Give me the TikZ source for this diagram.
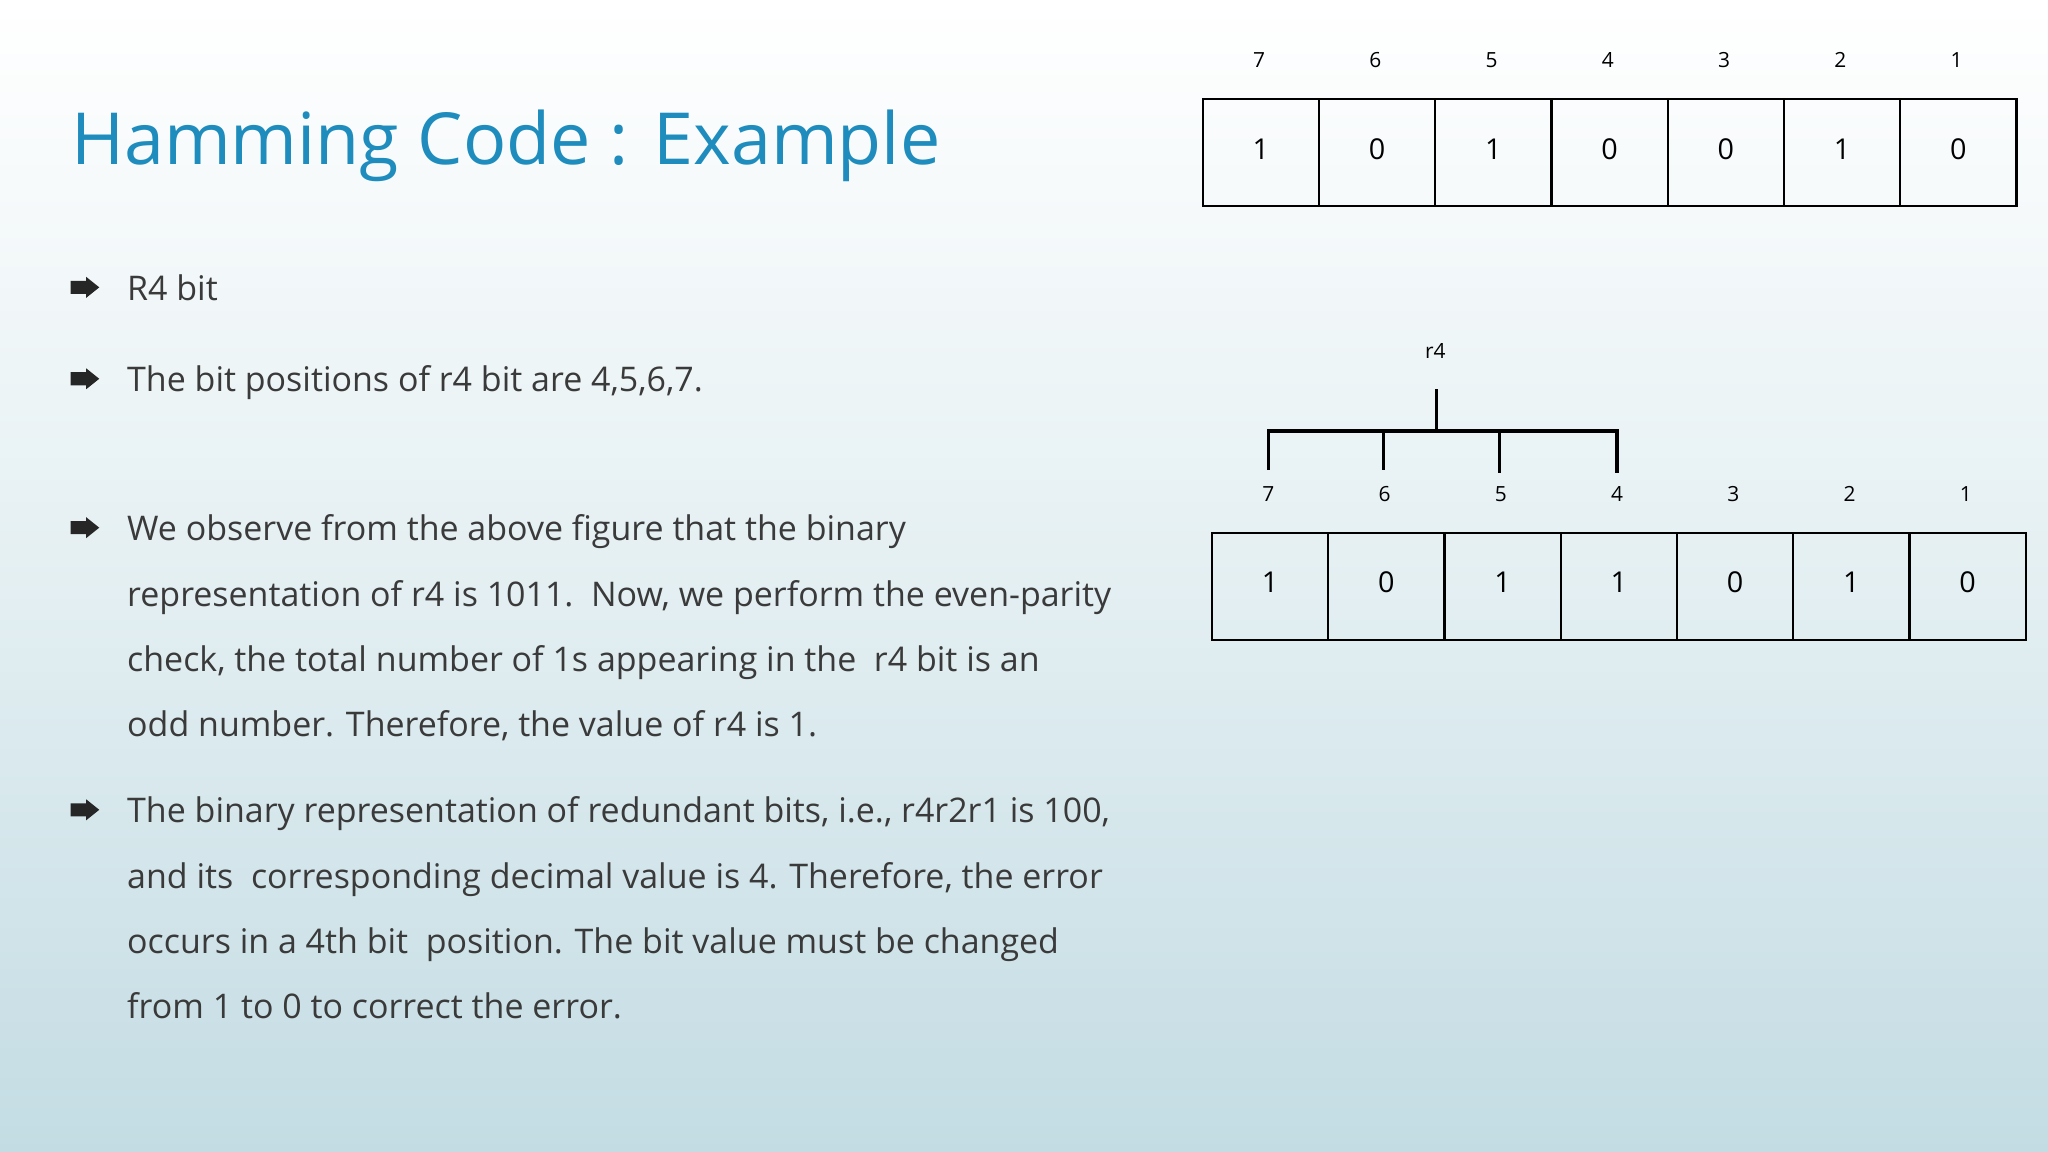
\documentclass[tikz,border=0pt]{standalone}
\usepackage{fontspec}
\setmainfont{Open Sans}
\definecolor{titleblue}{HTML}{1F8CBE}
\definecolor{bodytext}{HTML}{3A3A3A}
\definecolor{bgbot}{HTML}{C3DCE3}
\begin{document}
\begin{tikzpicture}[x=0.5pt,y=-0.5pt,
  cell/.style={draw=black,line width=0.9pt,minimum width=44.5pt,minimum height=41pt,inner sep=0pt,font=\fontsize{11}{13}\selectfont,anchor=north west},
  poslab/.style={font=\fontsize{8}{10}\selectfont},
  body/.style={anchor=base west,inner sep=0pt,text=bodytext,font=\fontsize{13}{16}\selectfont},
  bul/.style={fill=black!85,draw=none}]
\shade[top color=white,bottom color=bgbot,middle color=bgbot!45] (0,0) rectangle (1568,882);
\useasboundingbox (0,0) rectangle (1568,882);
\node[anchor=base west,inner sep=0pt,text=titleblue,font=\fontsize{27.5}{32}\selectfont] (title) at (54,126) {Hamming Code : Example};
% bullets
\foreach \y/\n in {220/b1,290/b2,404/b3,620/b4}{
  \fill[bul] (54,\y-5) -- (66,\y-5) -- (66,\y-8) -- (76,\y) -- (66,\y+8) -- (66,\y+5) -- (54,\y+5) -- cycle;
}
\node[body] (t1) at (97,230) {R4 bit};
\node[body] (t2) at (97,300) {The bit positions of r4 bit are 4,5,6,7.};
\node[body] (t3a) at (97,414) {We observe from the above figure that the binary};
\node[body] (t3b) at (97,464) {representation of r4 is 1011.\ \ Now, we perform the even-parity};
\node[body] (t3c) at (97,514) {check, the total number of 1s appearing in the\ \ r4 bit is an};
\node[body] (t3d) at (97,564) {odd number. Therefore, the value of r4 is 1.};
\node[body] (t4a) at (97,630) {The binary representation of redundant bits, i.e., r4r2r1 is 100,};
\node[body] (t4b) at (97,680) {and its\ \ corresponding decimal value is 4. Therefore, the error};
\node[body] (t4c) at (97,730) {occurs in a 4th bit\ \ position. The bit value must be changed};
\node[body] (t4d) at (97,780) {from 1 to 0 to correct the error.};
% top table
\foreach \i/\p/\v in {0/7/1,1/6/0,2/5/1,3/4/0,4/3/0,5/2/1,6/1/0}{
  \node[cell] (a\p) at (920+\i*89,75) {\raisebox{3pt}{\v}};
  \node[poslab] (la\p) at (964+\i*89,46) {\p};
}
% bottom table
\foreach \i/\p/\v in {0/7/1,1/6/0,2/5/1,3/4/1,4/3/0,5/2/1,6/1/0}{
  \node[cell] (c\p) at (927+\i*89,407) {\raisebox{3pt}{\v}};
  \node[poslab] (lc\p) at (971+\i*89,378) {\p};
}
\node[poslab] (r4) at (1099,269) {r4};
\coordinate (top) at (1100,298);
\coordinate (mid) at (1100,330);
\draw[line width=1.2pt] (top) -- (mid);
\draw[line width=1.2pt] (971,360) -- (971,330) -- (1238,330) -- (1238,362);
\draw[line width=1.2pt] (1059,330) -- (1059,360);
\draw[line width=1.2pt] (1148,330) -- (1148,362);
\end{tikzpicture}
\end{document}
